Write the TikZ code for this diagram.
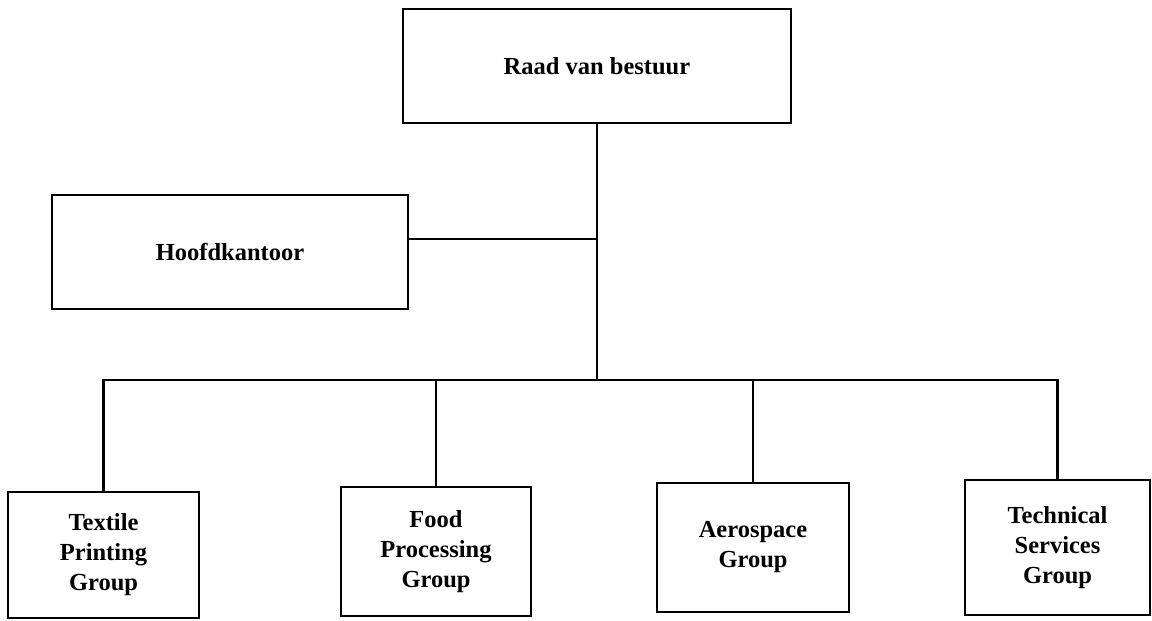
\documentclass[tikz,border=0pt]{standalone}
\usepackage{fontspec}
\setmainfont{Liberation Serif}
\usetikzlibrary{calc}
\begin{document}
\begin{tikzpicture}[x=1pt,y=-1pt,
  unit/.style={draw=black, line width=2.2pt, rectangle, inner sep=0pt,
    align=center, font=\bfseries\fontsize{24.5}{30}\selectfont},
  link/.style={draw=black, line width=2.2pt}]
  \useasboundingbox (0,0) rectangle (1152,621);
  % board and head office
  \node[unit, minimum width=388, minimum height=114] (board) at (597,66) {Raad van bestuur};
  \node[unit, minimum width=356, minimum height=114] (hq) at (230,252) {Hoofdkantoor};
  % divisions
  \node[unit, minimum width=191, minimum height=126] (textile) at (103.5,555) {Textile\\Printing\\Group};
  \node[unit, minimum width=190, minimum height=129] (food) at (436,551.5) {Food\\Processing\\Group};
  \node[unit, minimum width=192, minimum height=129] (aero) at (753,547.5) {Aerospace\\Group};
  \node[unit, minimum width=185, minimum height=135] (tech) at (1057.5,547.5) {Technical\\Services\\Group};
  % bus joining the divisions
  \coordinate (bus) at (597,380);
  \coordinate (hqtap) at ($(hq.north east)!0.39!(hq.south east)$);
  \draw[link] (board.south) -- (bus);
  \draw[link] (hqtap) -- (hqtap -| board.south);
  \draw[link] (textile.north) -- (textile.north |- bus) -- (tech.north |- bus) -- (tech.north);
  \draw[link] (food.north) -- (food.north |- bus);
  \draw[link] (aero.north) -- (aero.north |- bus);
\end{tikzpicture}
\end{document}
